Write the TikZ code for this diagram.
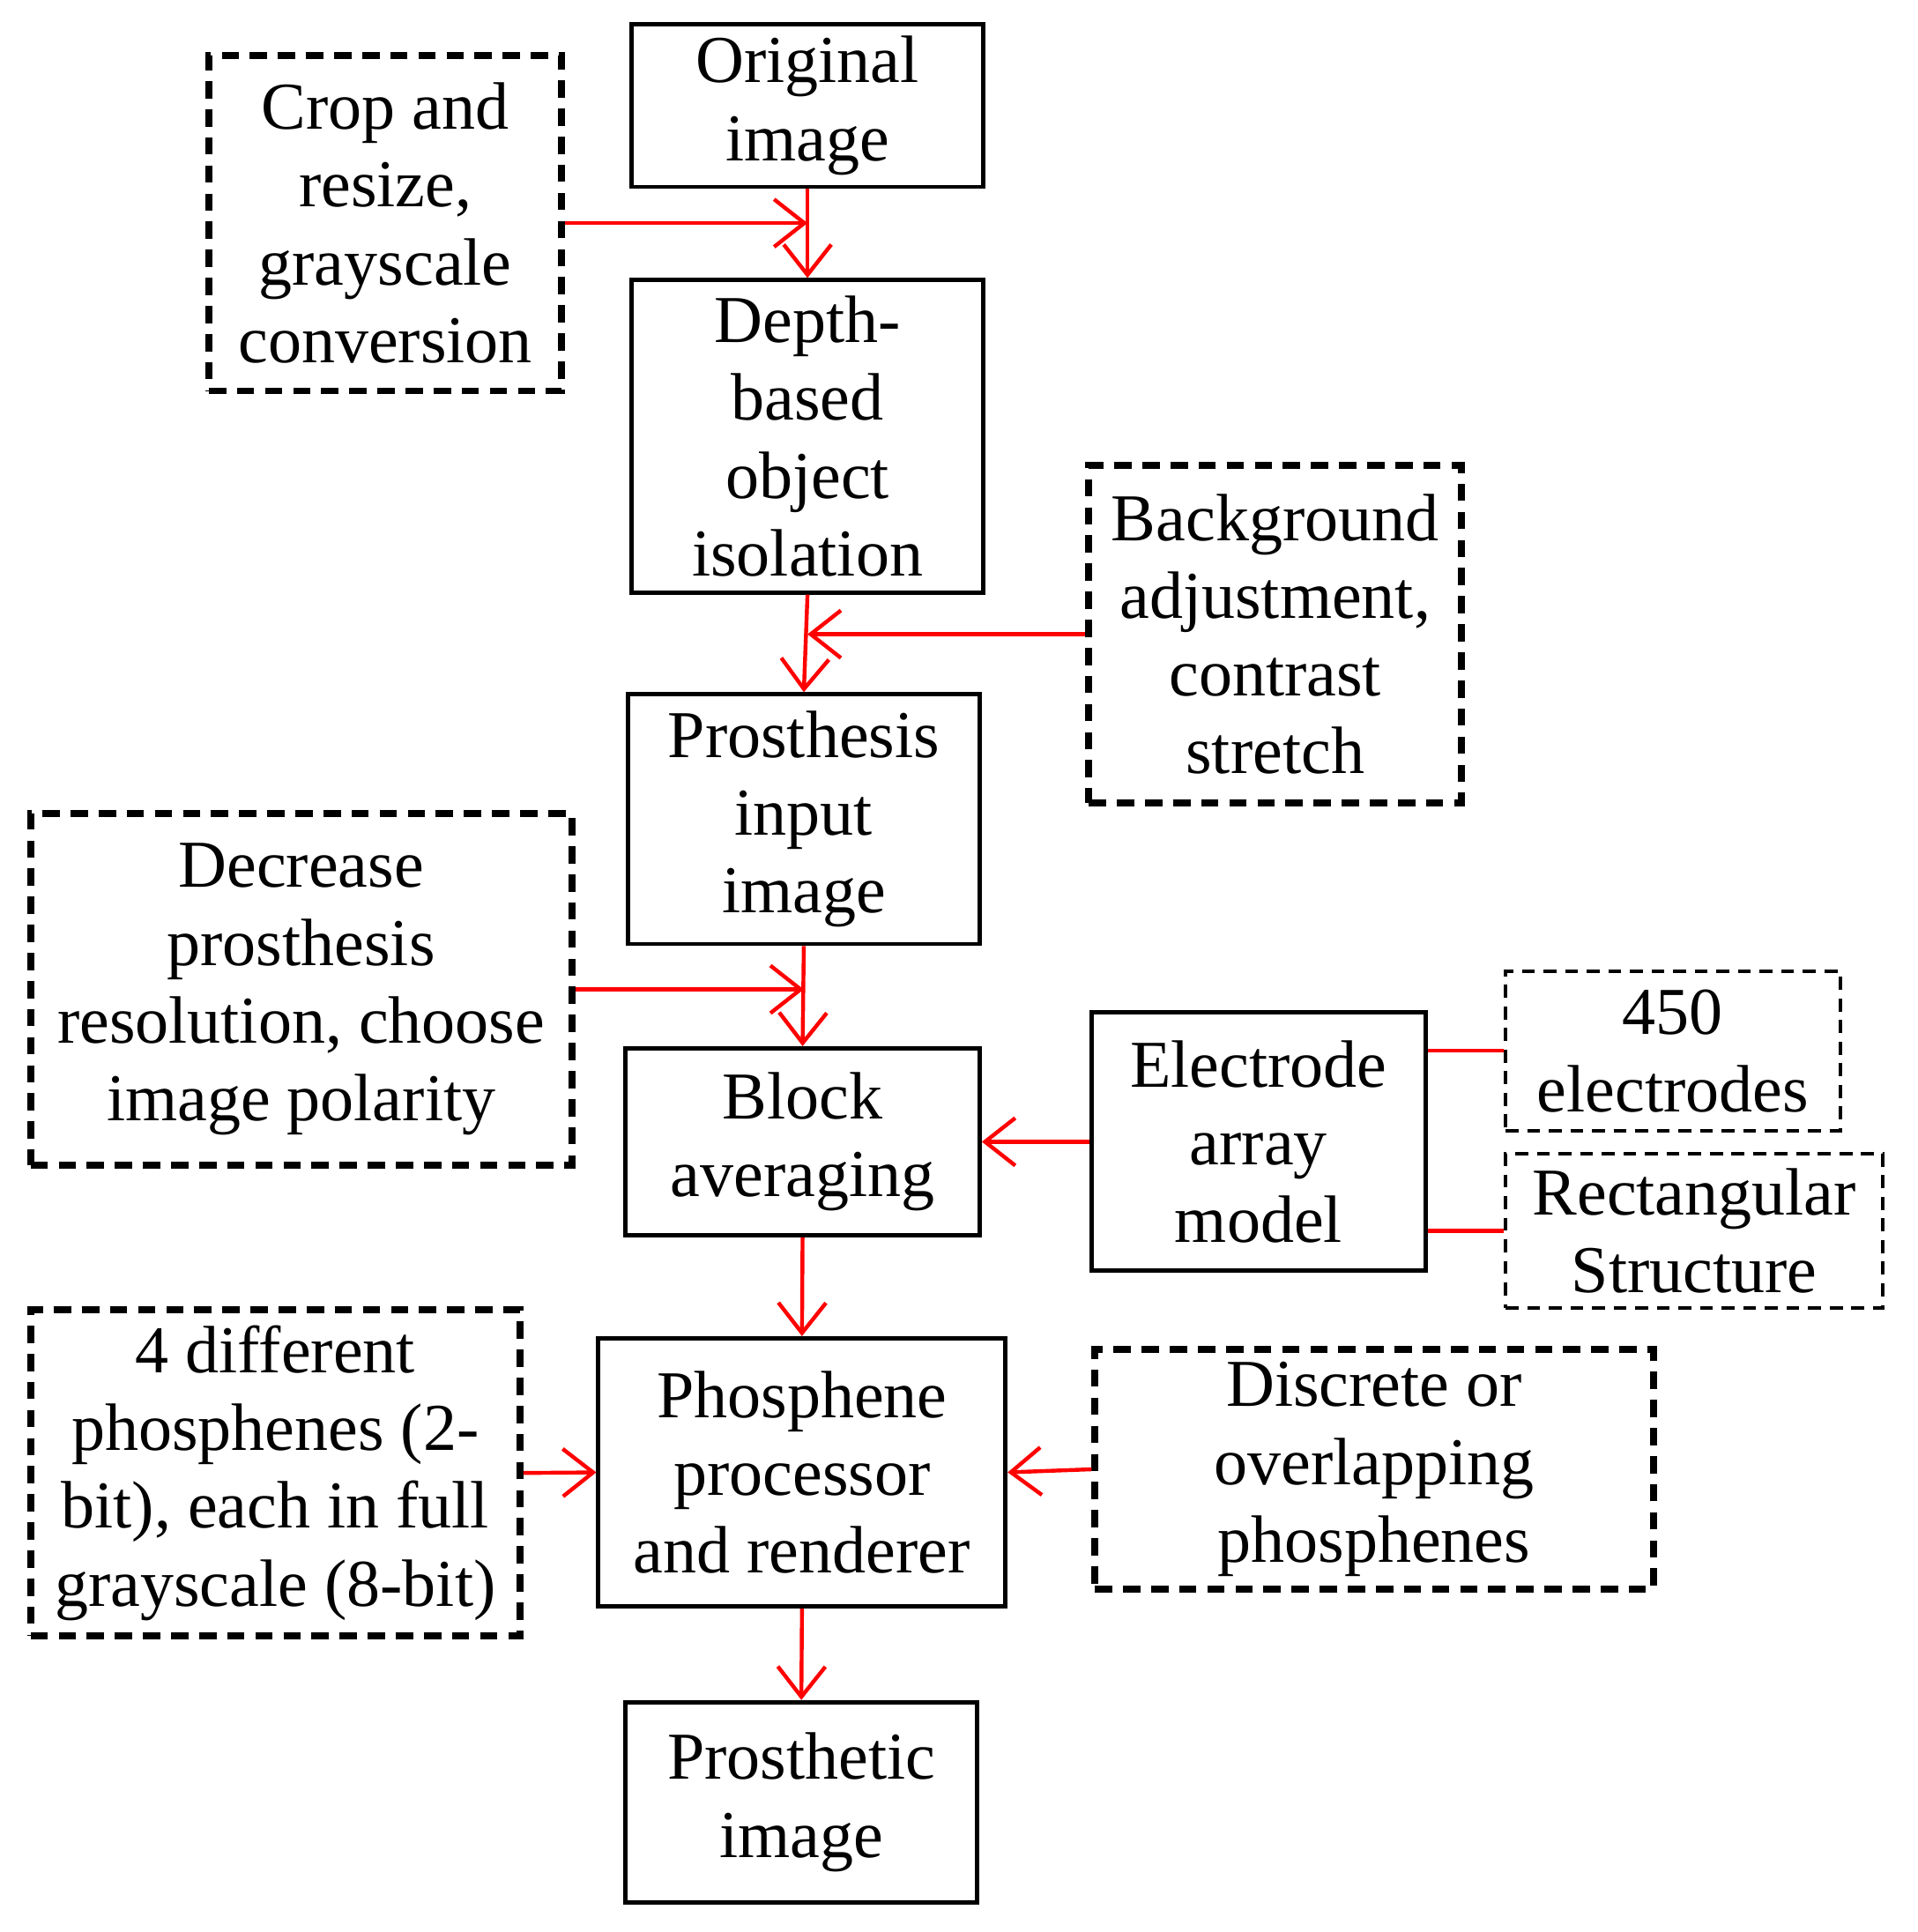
\documentclass[tikz,border=0pt]{standalone}
\usepackage{fontspec}
\setmainfont{Liberation Serif}
\usetikzlibrary{arrows.meta}
\begin{document}
\begin{tikzpicture}[x=0.01cm,y=-0.01cm,
  bx/.style={draw,line width=1pt,inner sep=0,align=center,font=\fontsize{15.5pt}{18pt}\selectfont},
  db/.style={bx,dash pattern=on 4pt off 2.5pt,line width=1.6pt},
  tb/.style={bx,dash pattern=on 3pt off 2pt,line width=0.8pt},
  ar/.style={draw=red,line width=0.9pt,-{Straight Barb[length=7pt,width=11pt]}},
  ln/.style={draw=red,line width=0.9pt}]
\useasboundingbox (0,0) rectangle (1560,1572);
\node[bx,minimum width=2.86cm,minimum height=1.32cm] (orig) at (657,86) {Original\\image};
\node[db,minimum width=2.87cm,minimum height=2.73cm] (crop) at (313.5,181.5) {Crop and\\resize,\\grayscale\\conversion};
\node[bx,minimum width=2.86cm,minimum height=2.54cm] (depth) at (657,355) {Depth-\\based\\object\\isolation};
\node[db,minimum width=3.03cm,minimum height=2.74cm] (bg) at (1037.5,516) {Background\\adjustment,\\contrast\\stretch};
\node[bx,minimum width=2.86cm,minimum height=2.03cm] (pin) at (654,666.5) {Prosthesis\\input\\image};
\node[db,minimum width=4.40cm,minimum height=2.86cm] (dec) at (245,805) {Decrease\\prosthesis\\resolution, choose\\image polarity};
\node[bx,minimum width=2.88cm,minimum height=1.52cm] (block) at (653,929) {Block\\averaging};
\node[bx,minimum width=2.72cm,minimum height=2.10cm] (elec) at (1024,929) {Electrode\\array\\model};
\node[tb,minimum width=2.72cm,minimum height=1.30cm] (n450) at (1361,855) {450\\electrodes};
\node[tb,minimum width=3.07cm,minimum height=1.25cm] (rect) at (1378.5,1001.5) {Rectangular\\Structure};
\node[db,minimum width=3.98cm,minimum height=2.65cm] (four) at (224,1198.5) {4 different\\phosphenes (2-\\bit), each in full\\grayscale (8-bit)};
\node[bx,minimum width=3.31cm,minimum height=2.18cm] (phos) at (652.5,1198) {Phosphene\\processor\\and renderer};
\node[db,minimum width=4.54cm,minimum height=1.95cm] (disc) at (1118,1195.5) {Discrete or\\overlapping\\phosphenes};
\node[bx,minimum width=2.86cm,minimum height=1.63cm] (out) at (652,1466.5) {Prosthetic\\image};
\draw[ar] (orig.south) -- (depth.north);
\draw[ar] (crop.east) -- (orig.south |- crop.east);
\draw[ar] (depth.south) -- (pin.north);
\draw[ar] (bg.west) -- (depth.south |- bg.west);
\draw[ar] (pin.south) -- (block.north);
\draw[ar] (dec.east) -- (pin.south |- dec.east);
\draw[ar] (elec.west) -- (block.east);
\draw[ln] (n450.west) -- (elec.east |- n450.west);
\draw[ln] (rect.west) -- (elec.east |- rect.west);
\draw[ar] (block.south) -- (phos.north);
\draw[ar] (four.east) -- (phos.west);
\draw[ar] (disc.west) -- (phos.east);
\draw[ar] (phos.south) -- (out.north);
\end{tikzpicture}
\end{document}
